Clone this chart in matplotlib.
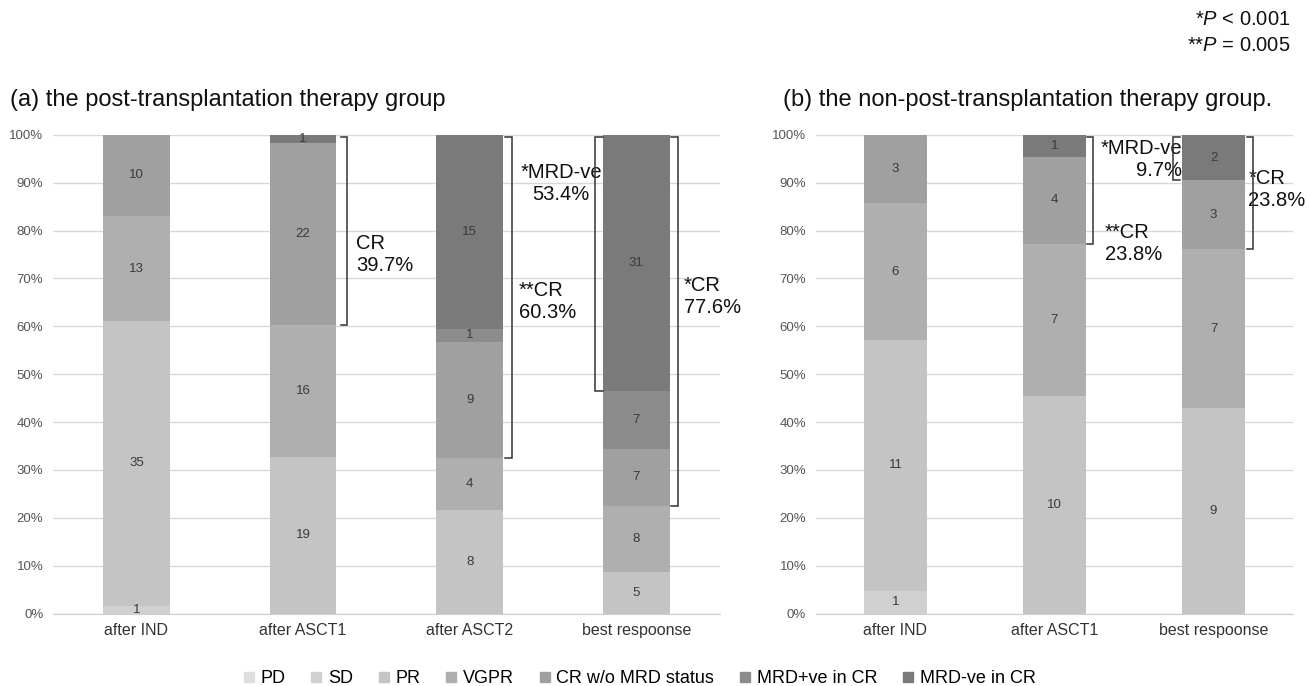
import matplotlib
matplotlib.use('Agg')
import numpy as np
import matplotlib.pyplot as plt
from matplotlib.lines import Line2D

plt.rcParams['font.family'] = ['Liberation Sans', 'DejaVu Sans']
plt.rcParams['mathtext.fontset'] = 'custom'
plt.rcParams['mathtext.rm'] = 'Liberation Sans'
plt.rcParams['mathtext.it'] = 'Liberation Sans:italic'

series = ['PD', 'SD', 'PR', 'VGPR', 'CR w/o MRD status', 'MRD+ve in CR', 'MRD-ve in CR']
colors = ['#dedede', '#d0d0d0', '#c4c4c4', '#afafaf', '#a0a0a0', '#8c8c8c', '#7a7a7a']

# (a) post-transplantation therapy group
cats_a = ['after IND', 'after ASCT1', 'after ASCT2', 'best respoonse']
pd_a = [0, 0, 0, 0]
sd_a = [1, 0, 0, 0]
pr_a = [35, 19, 8, 5]
vgpr_a = [13, 16, 4, 8]
crwo_a = [10, 22, 9, 7]
mrdpos_a = [0, 0, 1, 7]
mrdneg_a = [0, 1, 15, 31]

# (b) non-post-transplantation therapy group
cats_b = ['after IND', 'after ASCT1', 'best respoonse']
pd_b = [0, 0, 0]
sd_b = [1, 0, 0]
pr_b = [11, 10, 9]
vgpr_b = [6, 7, 7]
crwo_b = [3, 4, 3]
mrdpos_b = [0, 0, 0]
mrdneg_b = [0, 1, 2]

W = 0.4


def stacked(ax, cats, data):
    data = np.array(data, dtype=float)
    tot = data.sum(axis=0)
    frac = data / tot
    x = np.arange(len(cats))
    bottom = np.zeros(len(cats))
    for i, row in enumerate(frac):
        ax.bar(x, row, W, bottom=bottom, color=colors[i], zorder=2)
        for j in range(len(cats)):
            if data[i, j] > 0:
                ax.text(x[j], bottom[j] + row[j] / 2, '%d' % data[i, j],
                        ha='center', va='center', fontsize=9.5, color='#3a3a3a', zorder=3)
        bottom += row
    ax.set_xlim(-0.5, len(cats) - 0.5)
    ax.set_ylim(0, 1)
    ax.set_xticks(x)
    ax.set_xticklabels(cats, fontsize=11.5, color='#333333')
    ax.set_yticks(np.arange(0, 1.01, 0.1))
    ax.set_yticklabels(['%d%%' % v for v in range(0, 101, 10)], fontsize=9.5, color='#555555')
    ax.tick_params(length=0, pad=7)
    ax.grid(axis='y', color='#d9d9d9', lw=1, zorder=0)
    for s in ['top', 'right', 'left']:
        ax.spines[s].set_visible(False)
    ax.spines['bottom'].set_color('#cfcfcf')
    return np.cumsum(frac, axis=0)


def bracket(ax, xv, xt, y0, y1):
    ax.plot([xt, xv, xv, xt], [y1, y1, y0, y0], color='#333333', lw=1.1,
            zorder=4, clip_on=False, solid_joinstyle='miter')


fig = plt.figure(figsize=(13.07, 6.86), dpi=100)
ax1 = fig.add_axes([0.0406, 0.1055, 0.510, 0.698])
ax2 = fig.add_axes([0.6243, 0.1055, 0.365, 0.698])

cum_a = stacked(ax1, cats_a, [pd_a, sd_a, pr_a, vgpr_a, crwo_a, mrdpos_a, mrdneg_a])
cum_b = stacked(ax2, cats_b, [pd_b, sd_b, pr_b, vgpr_b, crwo_b, mrdpos_b, mrdneg_b])

ann = dict(fontsize=14.5, color='#111111', linespacing=1.2)

# panel a brackets
bracket(ax1, 1 + W / 2 + 0.066, 1 + W / 2 + 0.025, cum_a[3, 1], 0.995)
ax1.text(1.32, 0.751, 'CR\n39.7%', ha='left', va='center', **ann)
bracket(ax1, 2 + W / 2 + 0.054, 2 + W / 2 + 0.012, cum_a[3, 2], 0.995)
ax1.text(2.548, 0.899, '*MRD-ve\n53.4%', ha='center', va='center', multialignment='center', **ann)
ax1.text(2.296, 0.652, '**CR\n60.3%', ha='left', va='center', **ann)
bracket(ax1, 3 - W / 2 - 0.045, 3 - W / 2, cum_a[5, 3], 0.995)
bracket(ax1, 3 + W / 2 + 0.049, 3 + W / 2 + 0.007, cum_a[3, 3], 0.995)
ax1.text(3.284, 0.663, '*CR\n77.6%', ha='left', va='center', **ann)

# panel b brackets
bracket(ax2, 1 + W / 2 + 0.041, 1 + W / 2 + 0.005, cum_b[3, 1], 0.995)
ax2.text(1.544, 0.949, '*MRD-ve\n9.7%', ha='center', va='center', multialignment='right', **ann)
ax2.text(1.317, 0.774, '**CR\n23.8%', ha='left', va='center', **ann)
bracket(ax2, 2 - W / 2 - 0.054, 2 - W / 2 - 0.01, cum_b[4, 2], 0.995)
bracket(ax2, 2 + W / 2 + 0.05, 2 + W / 2 + 0.01, cum_b[3, 2], 0.995)
ax2.text(2.22, 0.885, '*CR\n23.8%', ha='left', va='center', **ann)

fig.text(0.008, 0.854, '(a) the post-transplantation therapy group', fontsize=17,
         ha='left', va='center', color='#111111')
fig.text(0.599, 0.854, '(b) the non-post-transplantation therapy group.', fontsize=17,
         ha='left', va='center', color='#111111')

fig.text(0.987, 0.971, r'*$\it{P}$ < 0.001', fontsize=14.5, ha='right', va='center', color='#111111')
fig.text(0.987, 0.933, r'**$\it{P}$ = 0.005', fontsize=14.5, ha='right', va='center', color='#111111')

handles = [Line2D([], [], marker='s', ls='none', color=c, markersize=7) for c in colors]
fig.legend(handles, series, loc='center', bbox_to_anchor=(0.489, 0.011), ncol=7,
           frameon=False, fontsize=13, handlelength=0.7, handletextpad=0.3,
           columnspacing=1.35, borderpad=0)

fig.savefig('out.png', dpi=100)
